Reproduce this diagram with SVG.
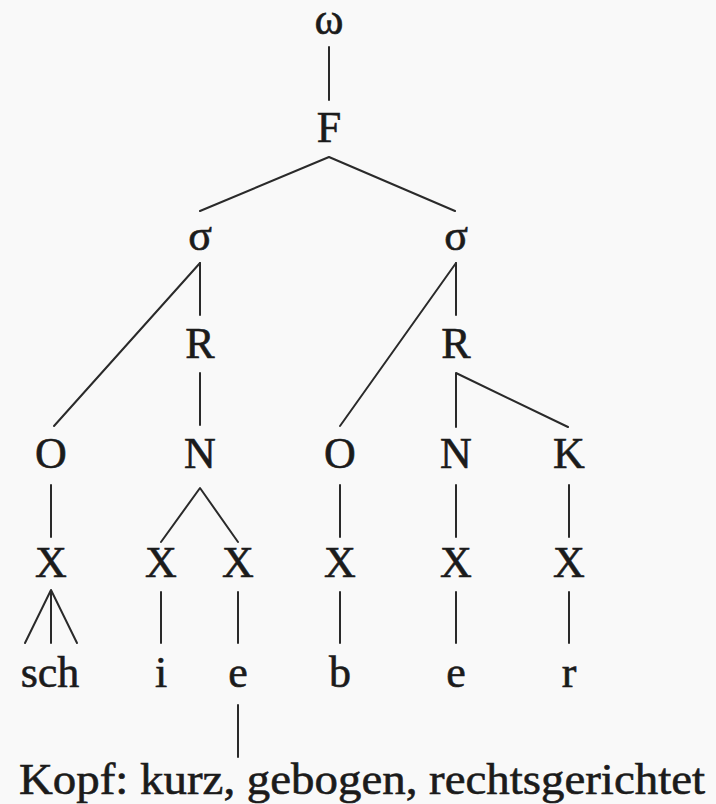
<svg xmlns="http://www.w3.org/2000/svg" width="716" height="804" viewBox="0 0 716 804">
  <style>
    .lbl { font-family: "Liberation Serif", "DejaVu Serif", serif; font-size: 44px; fill: #1b1b1b; stroke: #1b1b1b; stroke-width: 0.6px; text-anchor: middle; }
    .cap { font-family: "Liberation Serif", "DejaVu Serif", serif; font-size: 44px; fill: #1b1b1b; stroke: #1b1b1b; stroke-width: 0.6px; }
    .edge { stroke: #2a2a2a; stroke-width: 2; fill: none; stroke-linecap: round; stroke-linejoin: round; }
  </style>
  <rect x="0" y="0" width="716" height="804" fill="#f9f9f9"/>

  <!-- connectors -->
  <g id="edges">
    <line class="edge" x1="329" y1="47" x2="329" y2="100"/>
    <polyline class="edge" points="200,211 329,157 455,211"/>
    <!-- left syllable -->
    <line class="edge" x1="200" y1="263" x2="54" y2="426"/>
    <line class="edge" x1="200" y1="263" x2="200" y2="315"/>
    <line class="edge" x1="200" y1="373" x2="200" y2="425"/>
    <line class="edge" x1="51" y1="485" x2="51" y2="537"/>
    <polyline class="edge" points="161,542 200,488 238,542"/>
    <polyline class="edge" points="25,643 51,590 77,643"/>
    <line class="edge" x1="51" y1="592" x2="51" y2="643"/>
    <line class="edge" x1="161" y1="592" x2="161" y2="643"/>
    <line class="edge" x1="238" y1="592" x2="238" y2="643"/>
    <line class="edge" x1="238" y1="705" x2="238" y2="757"/>
    <!-- right syllable -->
    <line class="edge" x1="456" y1="263" x2="340" y2="426"/>
    <line class="edge" x1="456" y1="263" x2="456" y2="315"/>
    <polyline class="edge" points="456,427 456,373 568,427"/>
    <line class="edge" x1="340" y1="485" x2="340" y2="537"/>
    <line class="edge" x1="456" y1="485" x2="456" y2="537"/>
    <line class="edge" x1="569" y1="485" x2="569" y2="537"/>
    <line class="edge" x1="340" y1="592" x2="340" y2="643"/>
    <line class="edge" x1="456" y1="592" x2="456" y2="643"/>
    <line class="edge" x1="569" y1="592" x2="569" y2="643"/>
  </g>

  <!-- nodes -->
  <g id="n-omega"><text class="lbl" x="329" y="34">ω</text></g>
  <g id="n-F"><text class="lbl" x="329" y="142">F</text></g>
  <g id="n-sigma1"><text class="lbl" x="200" y="250">σ</text></g>
  <g id="n-sigma2"><text class="lbl" x="456" y="250">σ</text></g>
  <g id="n-R1"><text class="lbl" x="200" y="358">R</text></g>
  <g id="n-R2"><text class="lbl" x="456" y="358">R</text></g>
  <g id="n-O1"><text class="lbl" x="51" y="468">O</text></g>
  <g id="n-N1"><text class="lbl" x="200" y="468">N</text></g>
  <g id="n-O2"><text class="lbl" x="340" y="468">O</text></g>
  <g id="n-N2"><text class="lbl" x="456" y="468">N</text></g>
  <g id="n-K"><text class="lbl" x="569" y="468">K</text></g>
  <g id="n-X1"><text class="lbl" x="51" y="577">X</text></g>
  <g id="n-X2"><text class="lbl" x="161" y="577">X</text></g>
  <g id="n-X3"><text class="lbl" x="238" y="577">X</text></g>
  <g id="n-X4"><text class="lbl" x="340" y="577">X</text></g>
  <g id="n-X5"><text class="lbl" x="456" y="577">X</text></g>
  <g id="n-X6"><text class="lbl" x="569" y="577">X</text></g>
  <g id="n-sch"><text class="lbl" x="50" y="687">sch</text></g>
  <g id="n-i"><text class="lbl" x="161" y="687">i</text></g>
  <g id="n-e1"><text class="lbl" x="238" y="687">e</text></g>
  <g id="n-b"><text class="lbl" x="340" y="687">b</text></g>
  <g id="n-e2"><text class="lbl" x="456" y="687">e</text></g>
  <g id="n-r"><text class="lbl" x="569" y="687">r</text></g>
  <g id="n-caption"><text class="cap" x="19" y="794" textLength="686" lengthAdjust="spacingAndGlyphs">Kopf: kurz, gebogen, rechtsgerichtet</text></g>
</svg>
